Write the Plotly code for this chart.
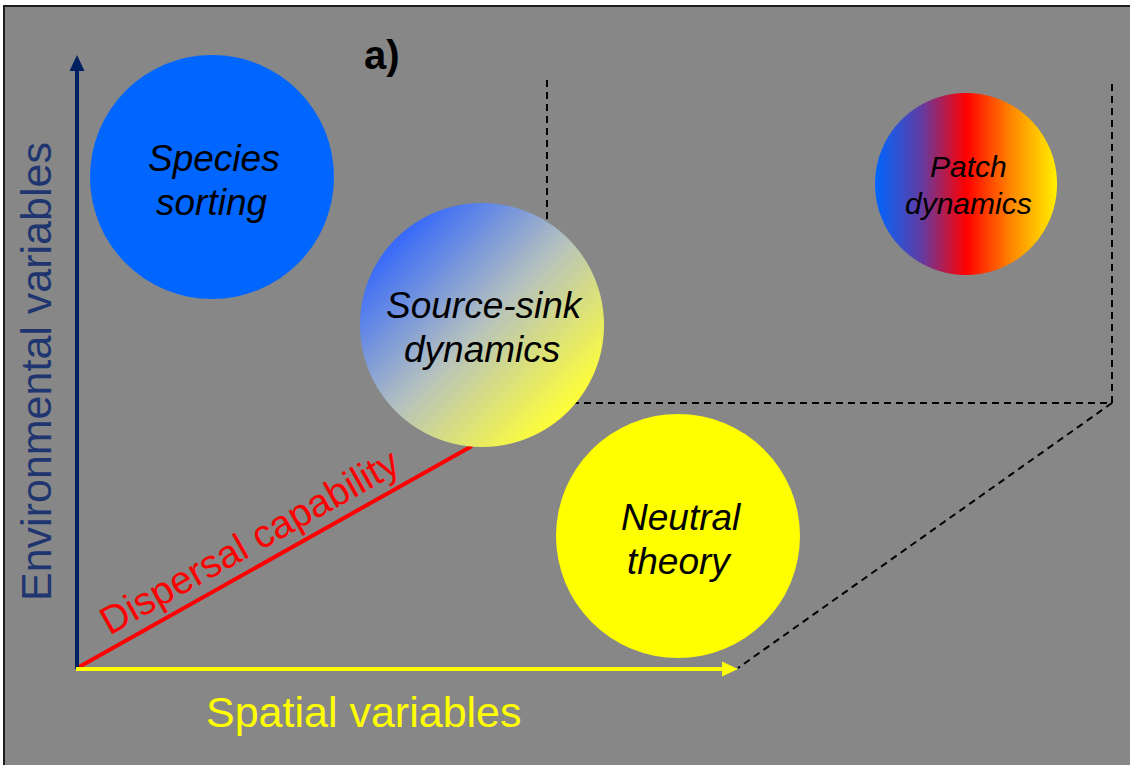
import numpy as np
import plotly.graph_objects as go

# ---------------- data (diagram, pixel-space coordinates) ----------------
W, H = 1130, 765

# solid discs
solid_labels = ["Species sorting", "Neutral theory"]
solid_cx = [212, 678]
solid_cy = [177, 536]
solid_r = [122, 122]
solid_colors = ["#0066FF", "#FFFF00"]

# gradient discs
grad_labels = ["Source-sink dynamics", "Patch dynamics"]
grad_cx = [482, 966]
grad_cy = [325, 184]
grad_r = [122, 91]

# text labels inside discs (one entry per line)
label_lines = ["Species", "sorting", "Source-sink", "dynamics", "Neutral", "theory", "Patch", "dynamics"]
label_x = [214, 211, 485, 482, 681, 679, 968, 968]
label_y = [158, 202, 305, 349, 517, 561, 166, 203]
label_size = [37, 37, 37, 37, 37, 37, 30, 30]

# axes of the conceptual diagram
origin = (77, 668)
env_top = 55
spatial_end = 738
dispersal_end = (472, 446)
dashed_box = dict(xl=547, xr=1112, ytop=80, ybot=403)

# ---------------- helpers ----------------
def interp_stops(t, stops):
    t = np.clip(t, 0, 1)
    pos = np.array([s[0] for s in stops])
    cols = np.array([s[1] for s in stops], dtype=float)
    out = np.empty(t.shape + (3,))
    for c in range(3):
        out[..., c] = np.interp(t, pos, cols[:, c])
    return out


def disc_image(cx, cy, r, colfn):
    x0 = int(np.floor(cx - r - 2))
    y0 = int(np.floor(cy - r - 2))
    n = int(np.ceil(2 * r + 5))
    xs = x0 + np.arange(n) + 0.5
    ys = y0 + np.arange(n) + 0.5
    X, Y = np.meshgrid(xs, ys)
    d = np.hypot(X - cx, Y - cy)
    alpha = np.clip(r - d + 0.5, 0, 1)
    rgb = colfn((X - cx) / r, (Y - cy) / r)
    z = np.dstack([rgb, alpha])
    return go.Image(z=z, colormodel="rgba", x0=x0 + 0.5, y0=y0 + 0.5, dx=1, dy=1,
                    hoverinfo="skip")


ss_stops = [(0.0, (55, 105, 250)), (0.5, (182, 194, 190)), (1.0, (255, 255, 55))]
pd_stops = [(0.0, (0, 102, 255)), (0.25, (95, 60, 165)), (0.5, (255, 0, 0)),
            (0.75, (255, 135, 0)), (1.0, (255, 240, 0))]

def ss_col(u, v):
    t = ((u + v) / np.sqrt(2) + 1) / 2
    return interp_stops(t, ss_stops)

def pd_col(u, v):
    t = (u + 1) / 2
    return interp_stops(t, pd_stops)

# ---------------- figure ----------------
fig = go.Figure()
fig.add_trace(disc_image(grad_cx[0], grad_cy[0], grad_r[0], ss_col))
fig.add_trace(disc_image(grad_cx[1], grad_cy[1], grad_r[1], pd_col))

shapes = []
# background panel with dark frame
shapes.append(dict(type="rect", x0=4, y0=6, x1=W + 20, y1=H + 20, xref="x", yref="y",
                   fillcolor="#878787", line=dict(color="#1e1e1e", width=2), layer="below"))
# dashed box / perspective lines
b = dashed_box
path = (f"M{b['xl']},{b['ytop']} L{b['xl']},{b['ybot']} L{b['xr']},{b['ybot']} L{b['xr']},{b['ytop']} "
        f"M{b['xr']},{b['ybot']} L{spatial_end},{origin[1]}")
shapes.append(dict(type="path", path=path, xref="x", yref="y",
                   line=dict(color="black", width=2, dash="7px,5px"), layer="below"))
# dispersal line (red)
shapes.append(dict(type="line", x0=origin[0] + 2, y0=origin[1] - 1, x1=dispersal_end[0], y1=dispersal_end[1],
                   xref="x", yref="y", line=dict(color="#FF0000", width=4), layer="below"))
# environmental axis (navy)
shapes.append(dict(type="line", x0=origin[0], y0=origin[1] + 1, x1=origin[0], y1=env_top + 14,
                   xref="x", yref="y", line=dict(color="#002060", width=4), layer="below"))
shapes.append(dict(type="path",
                   path=f"M{origin[0]},{env_top} L{origin[0]-7.5},{env_top+16} L{origin[0]+7.5},{env_top+16} Z",
                   xref="x", yref="y", fillcolor="#002060", line=dict(width=0), layer="below"))
# spatial axis (yellow)
shapes.append(dict(type="line", x0=origin[0] - 1, y0=origin[1] + 1, x1=spatial_end - 14, y1=origin[1] + 1,
                   xref="x", yref="y", line=dict(color="#FFFF00", width=4), layer="below"))
shapes.append(dict(type="path",
                   path=f"M{spatial_end},{origin[1]+1} L{spatial_end-16},{origin[1]-6.5} L{spatial_end-16},{origin[1]+8.5} Z",
                   xref="x", yref="y", fillcolor="#FFFF00", line=dict(width=0), layer="below"))
# solid discs
for cx, cy, r, c in zip(solid_cx, solid_cy, solid_r, solid_colors):
    shapes.append(dict(type="circle", x0=cx - r, y0=cy - r, x1=cx + r, y1=cy + r, xref="x", yref="y",
                       fillcolor=c, line=dict(width=0), layer="below"))

font_family = "Liberation Sans, Arial, sans-serif"
annotations = []
for t, x, y, s in zip(label_lines, label_x, label_y, label_size):
    annotations.append(dict(x=x, y=y, xref="x", yref="y", text=f"<i>{t}</i>", showarrow=False,
                            xanchor="center", yanchor="middle",
                            font=dict(family=font_family, size=s, color="black")))
annotations.append(dict(x=382, y=55, xref="x", yref="y", text="<b>a)</b>", showarrow=False,
                        xanchor="center", yanchor="middle",
                        font=dict(family=font_family, size=40, color="black")))
annotations.append(dict(x=36, y=372, xref="x", yref="y", text="Environmental variables", showarrow=False,
                        textangle=-90, xanchor="center", yanchor="middle",
                        font=dict(family=font_family, size=43, color="#1F3570")))
annotations.append(dict(x=364, y=712, xref="x", yref="y", text="Spatial variables", showarrow=False,
                        xanchor="center", yanchor="middle",
                        font=dict(family=font_family, size=43, color="#FFFF00")))
annotations.append(dict(x=249, y=541, xref="x", yref="y", text="Dispersal capability", showarrow=False,
                        textangle=-29.4, xanchor="center", yanchor="middle",
                        font=dict(family=font_family, size=39, color="#FF0000")))

fig.update_layout(
    width=W, height=H, margin=dict(l=0, r=0, t=0, b=0),
    paper_bgcolor="white", plot_bgcolor="white", showlegend=False,
    xaxis=dict(range=[0, W], visible=False, fixedrange=True, showgrid=False, zeroline=False),
    yaxis=dict(range=[H, 0], visible=False, fixedrange=True, showgrid=False, zeroline=False),
    shapes=shapes, annotations=annotations,
)

fig.write_html("out.html", config={"displayModeBar": False},
               post_script="document.body.style.margin='0px';document.body.style.overflow='hidden';")
